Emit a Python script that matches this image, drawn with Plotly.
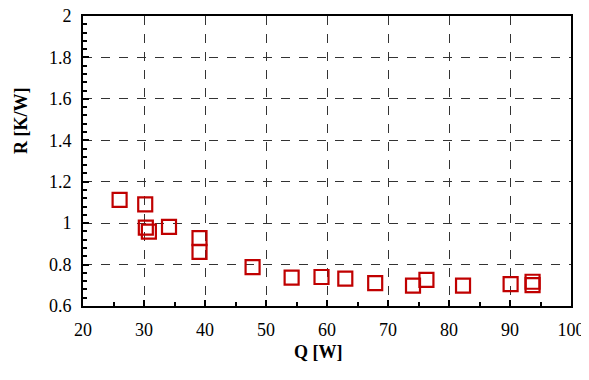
import plotly.graph_objects as go

Q = [26.0, 30.2, 30.3, 30.8, 34.1, 39.1, 39.1, 47.8, 54.2, 59.1, 63.0, 67.9, 74.1, 76.3, 82.3, 90.1, 93.7, 93.7]
R = [1.112, 1.091, 0.978, 0.959, 0.982, 0.928, 0.861, 0.788, 0.737, 0.740, 0.732, 0.710, 0.698, 0.726, 0.698, 0.706, 0.717, 0.701]

x_ticks = [20, 30, 40, 50, 60, 70, 80, 90, 100]
y_ticks = [0.6, 0.8, 1.0, 1.2, 1.4, 1.6, 1.8, 2.0]
y_tick_text = ["0.6", "0.8", "1", "1.2", "1.4", "1.6", "1.8", "2"]

fig = go.Figure()
fig.add_trace(go.Scatter(
    x=Q, y=R, mode="markers",
    marker=dict(symbol="square-open", size=14, color="#C00000", line=dict(width=2.2, color="#C00000")),
    showlegend=False,
))

font = dict(family="Liberation Serif", size=18, color="black")

# page body has an 8px default margin: shrink figure and margins to compensate
W, H = 581, 372
L, T, Rm, B = 75, 8, 18, 74
pw, ph = W - L - Rm, H - T - B

fig.update_layout(
    width=W, height=H,
    margin=dict(l=L, r=Rm, t=T, b=B, autoexpand=False),
    paper_bgcolor="white", plot_bgcolor="white",
    font=font,
    xaxis=dict(
        range=[20, 100], tickvals=x_ticks, ticks="inside", ticklen=6, tickwidth=1.5, tickcolor="black",
        showline=True, linecolor="black", linewidth=2, mirror=True, automargin=False,
        showgrid=True, gridcolor="#333333", griddash="dash", gridwidth=1.2,
        zeroline=False, ticklabelstandoff=6, ticklabeloverflow="allow",
        minor=dict(dtick=5, ticks="inside", ticklen=4, tickcolor="black", showgrid=False),
    ),
    yaxis=dict(
        range=[0.6, 2.0], tickvals=y_ticks, ticktext=y_tick_text, ticks="inside", ticklen=6, tickwidth=1.5, tickcolor="black",
        showline=True, linecolor="black", linewidth=2, mirror=True, automargin=False,
        showgrid=True, gridcolor="#333333", griddash="dash", gridwidth=1.2,
        zeroline=False, ticklabelstandoff=6, ticklabeloverflow="allow",
        minor=dict(dtick=0.04, ticks="inside", ticklen=4, tickcolor="black", showgrid=False),
    ),
    annotations=[
        dict(text="<b>Q [W]</b>", xref="paper", yref="paper", x=(318 - 83) / pw, y=-(352 - 306) / ph,
             showarrow=False, xanchor="center", yanchor="middle", font=font),
        dict(text="<b>R [K/W]</b>", xref="paper", yref="paper", x=-(83 - 21) / pw, y=(306 - 121) / ph,
             showarrow=False, xanchor="center", yanchor="middle", textangle=-90, font=font),
    ],
)

fig.write_html("out.html")
